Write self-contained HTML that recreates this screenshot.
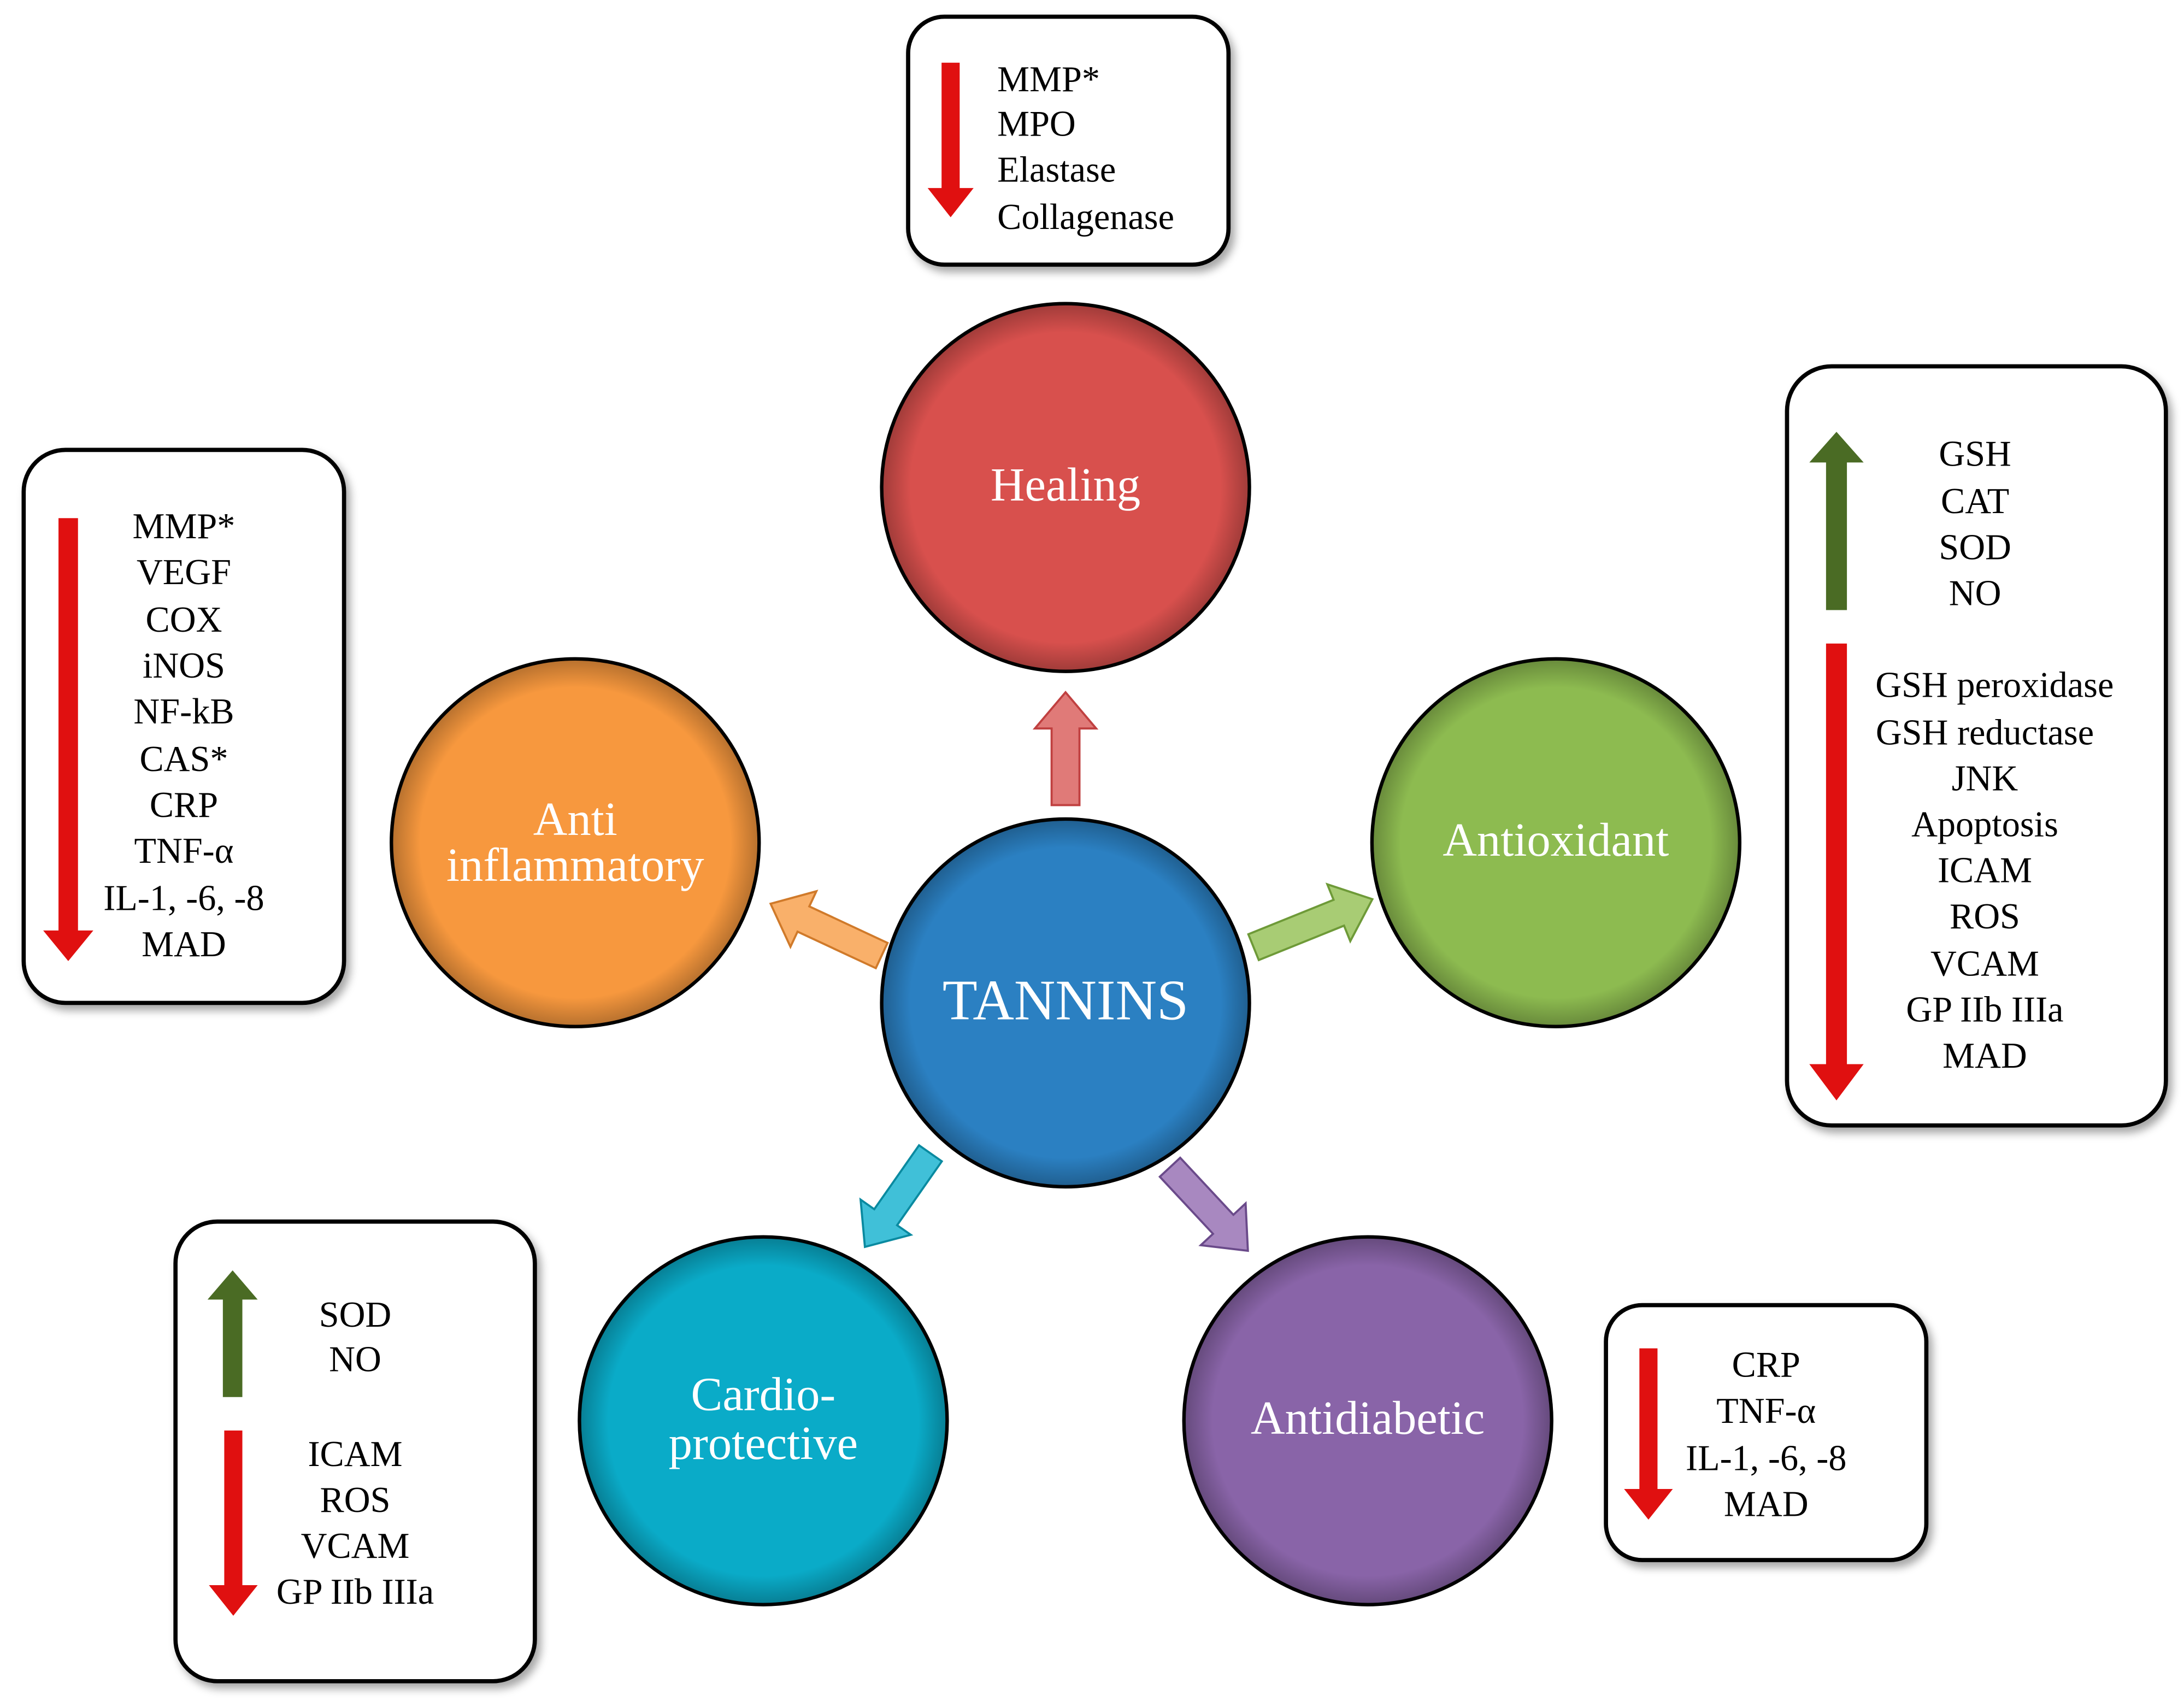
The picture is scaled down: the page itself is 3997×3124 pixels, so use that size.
<!DOCTYPE html>
<html><head><meta charset="utf-8"><style>html,body{margin:0;padding:0;background:#fff}svg{display:block}</style></head><body>
<svg width="3997" height="3124" viewBox="0 0 1568 1225.5" preserveAspectRatio="none" xmlns="http://www.w3.org/2000/svg" font-family="'Liberation Serif', serif">
<defs>
<radialGradient id="sh" cx="0.5" cy="0.5" r="0.5"><stop offset="0.85" stop-color="#000" stop-opacity="0"/><stop offset="1" stop-color="#000" stop-opacity="0.25"/></radialGradient>
<filter id="ds" x="-20%" y="-20%" width="140%" height="140%"><feDropShadow dx="3" dy="4" stdDeviation="3" flood-opacity="0.35"/></filter>
</defs>
<g font-size="26" fill="#000" text-anchor="middle" dominant-baseline="central">
<g fill="#fff" stroke="#000" stroke-width="3" filter="url(#ds)">
<rect x="652" y="12" width="230" height="178" rx="26"/>
<rect x="17" y="323" width="230" height="397" rx="30"/>
<rect x="1283" y="263" width="272" height="545" rx="32"/>
<rect x="126" y="877" width="258" height="330" rx="30"/>
<rect x="1153" y="937" width="230" height="183" rx="26"/>
</g>
<g fill="#e01010">
<path d="M676,45 h13 v90 h10 l-16.5,21 l-16.5,-21 h10z"/>
<path d="M42,372 h14 v296 h11 l-18,22 l-18,-22 h11z"/>
<path d="M1311,462 h15 v302 h12 l-19.5,26 l-19.5,-26 h12z"/>
<path d="M161,1027 h13 v111 h11 l-17.5,22 l-17.5,-22 h11z"/>
<path d="M1177,968 h13 v101 h11 l-17.5,22 l-17.5,-22 h11z"/>
</g>
<g fill="#4a6b24">
<path d="M1311,438 h15 v-106 h12 l-19.5,-22 l-19.5,22 h12z"/>
<path d="M160,1003 h14 v-70 h11 l-18,-21 l-18,21 h11z"/>
</g>
<g text-anchor="start"><text x="716" y="57">MMP*</text><text x="716" y="89">MPO</text><text x="716" y="122">Elastase</text><text x="716" y="156">Collagenase</text></g>
<g><text x="132" y="378">MMP*</text><text x="132" y="411">VEGF</text><text x="132" y="445">COX</text><text x="132" y="478">iNOS</text><text x="132" y="511">NF-kB</text><text x="132" y="545">CAS*</text><text x="132" y="578">CRP</text><text x="132" y="611">TNF-α</text><text x="132" y="645">IL-1, -6, -8</text><text x="132" y="678">MAD</text></g>
<g><text x="1418" y="326">GSH</text><text x="1418" y="360">CAT</text><text x="1418" y="393">SOD</text><text x="1418" y="426">NO</text>
<text x="1432" y="492">GSH peroxidase</text><text x="1425" y="526">GSH reductase</text><text x="1425" y="559">JNK</text><text x="1425" y="592">Apoptosis</text><text x="1425" y="625">ICAM</text><text x="1425" y="658">ROS</text><text x="1425" y="692">VCAM</text><text x="1425" y="725">GP IIb IIIa</text><text x="1425" y="758">MAD</text></g>
<g><text x="255" y="944">SOD</text><text x="255" y="976">NO</text><text x="255" y="1044">ICAM</text><text x="255" y="1077">ROS</text><text x="255" y="1110">VCAM</text><text x="255" y="1143">GP IIb IIIa</text></g>
<g><text x="1268" y="980">CRP</text><text x="1268" y="1013">TNF-α</text><text x="1268" y="1047">IL-1, -6, -8</text><text x="1268" y="1080">MAD</text></g>
<g stroke-width="1.5">
<path transform="translate(765,578) rotate(-90)" d="M0,-10 h55 v-12 l26,22 l-26,22 v-12 h-55z" fill="#e07a78" stroke="#c04040"/>
<path transform="translate(633,686) rotate(-155)" d="M0,-10 h62 v-12 l26,22 l-26,22 v-12 h-62z" fill="#f9b06a" stroke="#d07a2a"/>
<path transform="translate(900,680) rotate(-22)" d="M0,-10 h66 v-12 l26,22 l-26,22 v-12 h-66z" fill="#a8cc74" stroke="#6e9a38"/>
<path transform="translate(668,828) rotate(125)" d="M0,-10 h56 v-12 l26,22 l-26,22 v-12 h-56z" fill="#40c0d8" stroke="#0a8aa0"/>
<path transform="translate(840,838) rotate(47)" d="M0,-10 h56 v-12 l26,22 l-26,22 v-12 h-56z" fill="#a888c0" stroke="#6a4a8a"/>
</g>
<g stroke="#000" stroke-width="2.5">
<circle cx="765" cy="350" r="132" fill="#d8504d"/>
<circle cx="765" cy="720" r="132" fill="#2b80c2"/>
<circle cx="1117" cy="605" r="132" fill="#8dbb50"/>
<circle cx="413" cy="605" r="132" fill="#f7983e"/>
<circle cx="548" cy="1020" r="132" fill="#0aabc8"/>
<circle cx="982" cy="1020" r="132" fill="#8964a8"/>
</g>
<g fill="url(#sh)">
<circle cx="765" cy="350" r="131"/><circle cx="765" cy="720" r="131"/><circle cx="1117" cy="605" r="131"/><circle cx="413" cy="605" r="131"/><circle cx="548" cy="1020" r="131"/><circle cx="982" cy="1020" r="131"/>
</g>
<g fill="#fff" font-size="34">
<text x="765" y="348">Healing</text>
<text x="765" y="718" font-size="41">TANNINS</text>
<text x="1117" y="603">Antioxidant</text>
<text x="413" y="588">Anti</text><text x="413" y="621">inflammatory</text>
<text x="548" y="1001">Cardio-</text><text x="548" y="1036">protective</text>
<text x="982" y="1018">Antidiabetic</text>
</g>
</g>
</svg>
</body></html>
